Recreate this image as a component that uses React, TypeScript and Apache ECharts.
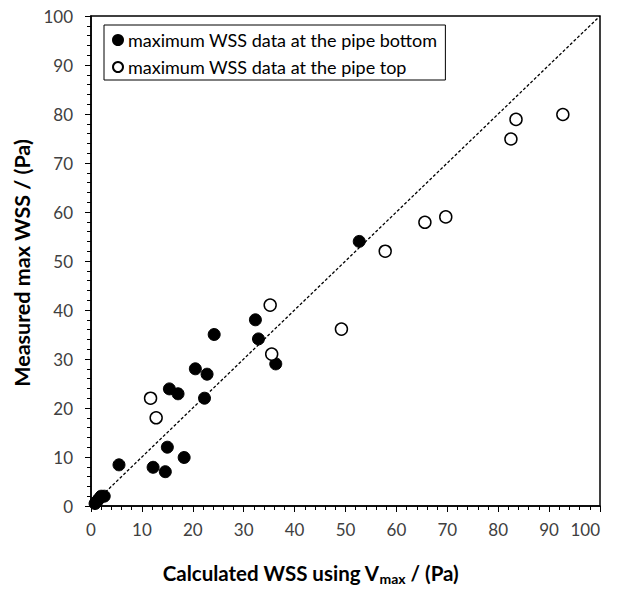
import React, { useEffect, useRef } from "react";
import * as echarts from "echarts";

const bottomData: [number, number][] = [
  [0.8, 0.5], [1.2, 1.0], [1.6, 1.5], [2.0, 2.0], [2.6, 2.0],
  [5.5, 8.4], [12.2, 7.9], [14.6, 7.0], [15.0, 12.0], [18.3, 9.9],
  [15.4, 23.9], [17.1, 22.9], [20.5, 28.0], [22.3, 22.0], [22.8, 26.9],
  [24.2, 35.0], [32.3, 38.0], [32.9, 34.1], [36.3, 29.0], [52.7, 54.0],
];
const topData: [number, number][] = [
  [11.7, 22.0], [12.8, 18.0], [35.2, 41.0], [35.5, 31.0], [49.2, 36.1],
  [57.8, 52.0], [65.6, 57.9], [69.7, 59.0], [82.5, 74.9], [83.5, 78.9],
  [92.7, 79.9],
];
const lineData: [number, number][] = [[0, 0], [100, 100]];
const bottomName = "maximum WSS data at the pipe bottom";
const topName = "maximum WSS data at the pipe top";

const FONT = "Lato";

export default function App() {
  const ref = useRef<HTMLDivElement>(null);
  useEffect(() => {
    if (!ref.current) return;
    const chart = echarts.init(ref.current, undefined, { renderer: "svg" });
    const axisCommon = {
      min: 0,
      max: 100,
      interval: 10,
      splitLine: { show: false },
      axisLine: { show: true, onZero: false, lineStyle: { color: "#000", width: 1.5 } },
      axisTick: { show: true, inside: false, length: 6, lineStyle: { color: "#000", width: 1 } },
      minorTick: { show: true, splitNumber: 5, length: 4, lineStyle: { color: "#000", width: 1 } },
      axisLabel: { color: "#404040", fontFamily: FONT, fontSize: 17 },
    };
    chart.setOption({
      animation: false,
      backgroundColor: "#fff",
      grid: {
        left: 91, right: 19, top: 16, bottom: 88,
        show: true, borderColor: "#000", borderWidth: 1.5, backgroundColor: "transparent",
      },
      legend: {
        left: 104, top: 25, orient: "vertical",
        data: [bottomName, topName],
        borderColor: "#000", borderWidth: 1,
        padding: [6, 8, 4, 8], itemGap: 9,
        itemWidth: 10, itemHeight: 10,
        textStyle: { color: "#000", fontFamily: FONT, fontSize: 18 },
        selectedMode: false,
      },
      xAxis: {
        type: "value",
        ...axisCommon,
        axisLabel: { ...axisCommon.axisLabel, margin: 15, alignMaxLabel: "right" },
        name: "{a|Calculated WSS using V}{b|max}{a| / (Pa)}",
        nameLocation: "middle",
        nameGap: 55,
        nameTextStyle: {
          padding: [0, 70, 0, 0],
          rich: {
            a: { fontFamily: FONT, fontSize: 20.5, fontWeight: "bold", color: "#000", lineHeight: 24 },
            b: { fontFamily: FONT, fontSize: 14, fontWeight: "bold", color: "#000", lineHeight: 8, verticalAlign: "bottom" },
          },
        },
      },
      yAxis: {
        type: "value",
        ...axisCommon,
        axisLabel: { ...axisCommon.axisLabel, margin: 18 },
        name: "Measured max WSS / (Pa)",
        nameLocation: "middle",
        nameGap: 55,
        nameTextStyle: {
          fontFamily: FONT, fontSize: 21.5, fontWeight: "bold", color: "#000",
          padding: [0, 4, 0, 0],
        },
      },
      series: [
        {
          type: "line",
          data: lineData,
          symbol: "none",
          lineStyle: { color: "#000", width: 1.3, type: [3, 2] },
          silent: true,
          z: 1,
        },
        {
          name: bottomName,
          type: "scatter",
          data: bottomData,
          symbol: "circle",
          symbolSize: 12,
          itemStyle: { color: "#000", borderColor: "#000", borderWidth: 1, opacity: 1 },
          z: 3,
        },
        {
          name: topName,
          type: "scatter",
          data: topData,
          symbol: "circle",
          symbolSize: 12,
          itemStyle: { color: "#fff", borderColor: "#000", borderWidth: 1.5, opacity: 1 },
          z: 3,
        },
      ],
    });
    return () => chart.dispose();
  }, []);
  return <div ref={ref} style={{ width: 619, height: 594, margin: -8 }} />;
}
